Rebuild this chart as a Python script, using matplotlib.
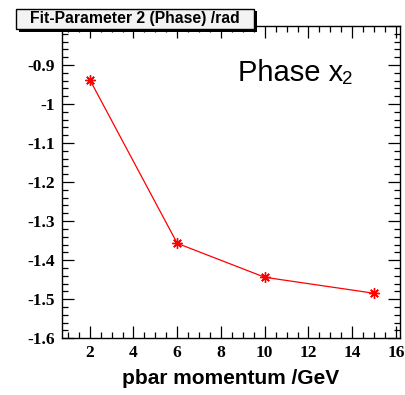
import numpy as np
import matplotlib
matplotlib.use("Agg")
import matplotlib.pyplot as plt
from matplotlib.ticker import MultipleLocator

# fit results: phase parameter vs. antiproton momentum
momentum = [2, 6, 10, 15]
phase = [-0.937, -1.357, -1.444, -1.485]

x_range = (0.72, 16.18)
y_range = (-1.6, -0.8)

fig = plt.figure(figsize=(4.06, 3.95), dpi=100)
ax = fig.add_axes([0.152, 0.144, 0.833, 0.790])

ax.plot(momentum, phase, color="#ff0000", lw=0.9,
        marker=(8, 2, 0), ms=7.5, mew=1.0, mec="#ff0000", zorder=3)

ax.set_xlim(*x_range)
ax.set_ylim(*y_range)
ax.xaxis.set_major_locator(MultipleLocator(2))
ax.xaxis.set_minor_locator(MultipleLocator(0.5))
ax.yaxis.set_major_locator(MultipleLocator(0.1))
ax.yaxis.set_minor_locator(MultipleLocator(0.02))
ax.yaxis.set_major_formatter(plt.FuncFormatter(lambda v, p: f"{v:.1f}".replace("-1.0", "-1")))

ax.tick_params(which="both", direction="in", top=True, right=True, width=0.9,
               colors="black")
ax.tick_params(which="major", length=8.5)
ax.tick_params(which="minor", length=4.5)
ax.tick_params(axis="y", pad=4.8)
ax.tick_params(axis="x", pad=5)
for lab in ax.get_xticklabels() + ax.get_yticklabels():
    lab.set_fontfamily("Liberation Serif")
    lab.set_fontweight("bold")
    lab.set_fontsize(12.5)
for sp in ax.spines.values():
    sp.set_linewidth(1.0)

ax.set_xlabel("pbar momentum /GeV", fontfamily="Liberation Sans",
              fontweight="bold", fontsize=15, labelpad=6)

# "Phase x_2" label in the upper right of the frame
fig.text(0.585, 0.796, "Phase x", fontfamily="Liberation Sans", fontsize=21,
         va="baseline", ha="left")
fig.text(342 / 406, 1 - 84.5 / 395, "2", fontfamily="Liberation Sans",
         fontsize=13.5, va="baseline", ha="left")

# title box with drop shadow, ROOT style
bw, bh = (254.3 - 15.7) / 406, (29 - 9) / 395
bx, by = 15.7 / 406, 1 - 29 / 395
shadow = plt.Rectangle((bx + 3 / 406, by - 2.5 / 395), bw, bh,
                       transform=fig.transFigure, facecolor="black",
                       edgecolor="none", zorder=10)
box = plt.Rectangle((bx, by), bw, bh, transform=fig.transFigure,
                    facecolor="#f3f3f3", edgecolor="black", lw=1.0, zorder=11)
fig.patches.extend([shadow, box])
fig.text(bx + bw / 2, by + bh / 2, "Fit-Parameter 2 (Phase) /rad",
         fontfamily="Liberation Sans", fontweight="bold", fontsize=11.3,
         ha="center", va="center", zorder=12)

fig.savefig("out.png", dpi=100)
